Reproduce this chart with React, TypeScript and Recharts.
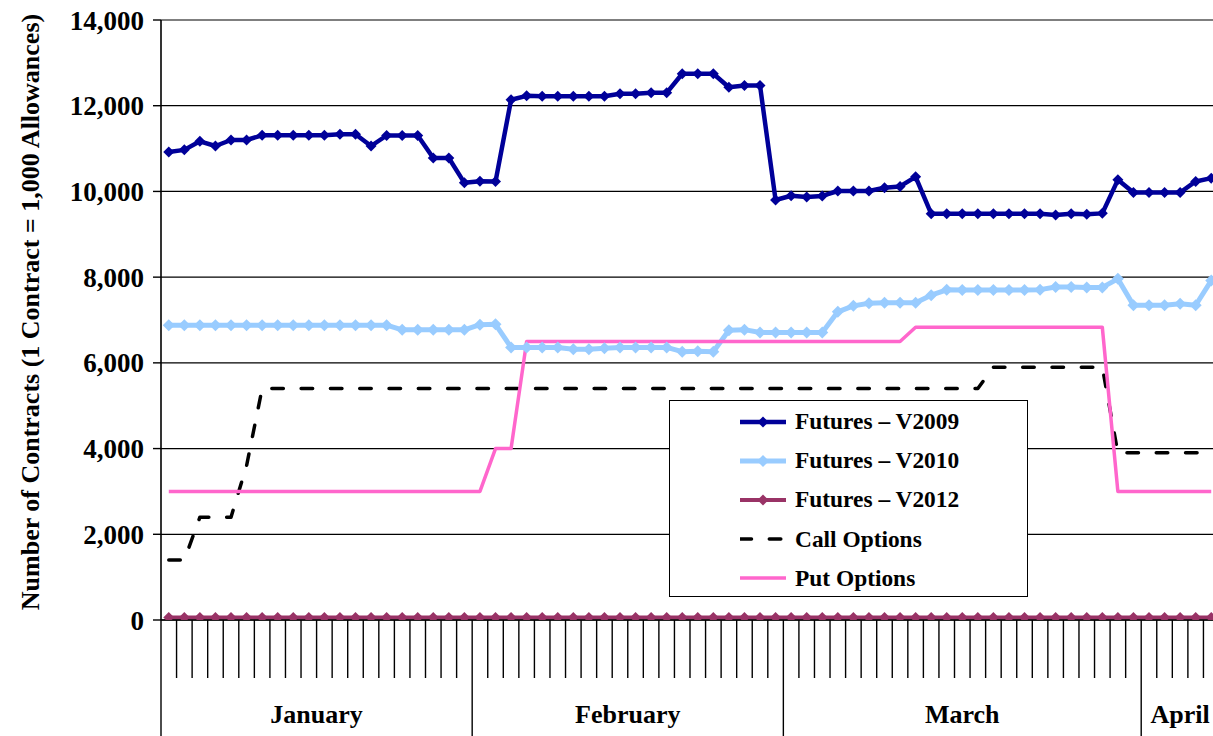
import React from 'react';
import { LineChart, Line, XAxis, YAxis, CartesianGrid, Legend } from 'recharts';

// ---- data ----
const monthNames = ['January', 'February', 'March', 'April'];
const daysPerMonth = [20, 20, 23, 5];

const futuresV2009 = [
  10920, 10970, 11170, 11060, 11200, 11200, 11310, 11310, 11310, 11310,
  11310, 11335, 11335, 11060, 11305, 11305, 11305, 10780, 10780, 10200,
  10240, 10230, 12140, 12230, 12220, 12220, 12220, 12220, 12220, 12280,
  12280, 12300, 12300, 12745, 12745, 12745, 12430, 12470, 12470, 9800,
  9900, 9870, 9895, 10010, 10010, 10010, 10086, 10117, 10340, 9480,
  9480, 9480, 9480, 9480, 9480, 9480, 9480, 9450, 9480, 9465,
  9488, 10270, 9975, 9975, 9975, 9975, 10233, 10310,
];

const futuresV2010 = [
  6880, 6880, 6880, 6880, 6880, 6880, 6880, 6880, 6880, 6880,
  6880, 6880, 6880, 6880, 6880, 6770, 6770, 6770, 6770, 6770,
  6890, 6900, 6360, 6360, 6360, 6360, 6320, 6320, 6340, 6360,
  6360, 6360, 6360, 6260, 6270, 6260, 6760, 6775, 6710, 6710,
  6710, 6710, 6710, 7190, 7330, 7390, 7400, 7400, 7400, 7580,
  7705, 7700, 7700, 7700, 7700, 7700, 7708, 7770, 7770, 7760,
  7760, 7960, 7345, 7345, 7345, 7380, 7345, 7920,
];

const futuresV2012 = [
  60, 60, 60, 60, 60, 60, 60, 60, 60, 60,
  60, 60, 60, 60, 60, 60, 60, 60, 60, 60,
  60, 60, 60, 60, 60, 60, 60, 60, 60, 60,
  60, 60, 60, 60, 60, 60, 60, 60, 60, 60,
  60, 60, 60, 60, 60, 60, 60, 60, 60, 60,
  60, 60, 60, 60, 60, 60, 60, 60, 60, 60,
  60, 60, 60, 60, 60, 60, 60, 60,
];

const callOptions = [
  1400, 1400, 2400, 2400, 2400, 3600, 5400, 5400, 5400, 5400,
  5400, 5400, 5400, 5400, 5400, 5400, 5400, 5400, 5400, 5400,
  5400, 5400, 5400, 5400, 5400, 5400, 5400, 5400, 5400, 5400,
  5400, 5400, 5400, 5400, 5400, 5400, 5400, 5400, 5400, 5400,
  5400, 5400, 5400, 5400, 5400, 5400, 5400, 5400, 5400, 5400,
  5400, 5400, 5400, 5900, 5900, 5900, 5900, 5900, 5900, 5900,
  5900, 3900, 3900, 3900, 3900, 3900, 3900, 3900,
];

const putOptions = [
  3000, 3000, 3000, 3000, 3000, 3000, 3000, 3000, 3000, 3000,
  3000, 3000, 3000, 3000, 3000, 3000, 3000, 3000, 3000, 3000,
  3000, 4000, 4000, 6500, 6500, 6500, 6500, 6500, 6500, 6500,
  6500, 6500, 6500, 6500, 6500, 6500, 6500, 6500, 6500, 6500,
  6500, 6500, 6500, 6500, 6500, 6500, 6500, 6500, 6830, 6830,
  6830, 6830, 6830, 6830, 6830, 6830, 6830, 6830, 6830, 6830,
  6830, 3000, 3000, 3000, 3000, 3000, 3000, 3000,
];

const yTicks = [0, 2000, 4000, 6000, 8000, 10000, 12000, 14000];
const yAxisTitle = 'Number of Contracts (1 Contract = 1,000 Allowances)';

type Series = {
  key: string;
  name: string;
  color: string;
  width: number;
  marker: number;
  dash?: string;
};

const series: Series[] = [
  { key: 'v2009', name: 'Futures \u2013 V2009', color: '#000099', width: 4.5, marker: 5.5 },
  { key: 'v2010', name: 'Futures \u2013 V2010', color: '#99CCFF', width: 5, marker: 6 },
  { key: 'v2012', name: 'Futures \u2013 V2012', color: '#993366', width: 4, marker: 5.5 },
  { key: 'call', name: 'Call Options', color: '#000000', width: 3.5, marker: 0, dash: '11.5 17.8' },
  { key: 'put', name: 'Put Options', color: '#FF66CC', width: 3.5, marker: 0 },
];

// ---- derived table ----
const data = futuresV2009.map((v, i) => ({
  i,
  v2009: v,
  v2010: futuresV2010[i],
  v2012: futuresV2012[i],
  call: callOptions[i],
  put: putOptions[i],
}));

const nDays = data.length;
const monthStarts: number[] = [];
daysPerMonth.reduce((acc, n) => {
  monthStarts.push(acc);
  return acc + n;
}, 0);
const monthBoundaries = [...monthStarts.map((s) => s - 0.5), nDays - 0.5];
const monthCenters = monthStarts.map((s, k) => s - 0.5 + daysPerMonth[k] / 2);
const dayBoundaries = data.map((d) => d.i - 0.5).concat([nDays - 0.5]);

const FONT = '"Liberation Serif", "Times New Roman", Times, serif';
const DAY_AXIS_H = 58;
const MONTH_AXIS_H = 58;

const diamond = (cx: number, cy: number, r: number) =>
  `M${cx},${cy - r} L${cx + r},${cy} L${cx},${cy + r} L${cx - r},${cy} Z`;

const makeDot = (s: Series) => (props: any) => {
  const { cx, cy, index } = props;
  if (cx == null || cy == null) return <g key={`e-${s.key}-${index}`} />;
  return <path key={`d-${s.key}-${index}`} d={diamond(cx, cy, s.marker)} fill={s.color} />;
};

const DayTick = (props: any) => {
  const { x, y, payload } = props;
  const long = monthBoundaries.some((b) => Math.abs(b - payload.value) < 1e-6);
  return (
    <line
      x1={x}
      y1={y}
      x2={x}
      y2={y + (long ? DAY_AXIS_H + MONTH_AXIS_H : DAY_AXIS_H)}
      stroke="#000"
      strokeWidth={1.4}
    />
  );
};

const MonthTick = (props: any) => {
  const { x, y, payload } = props;
  const k = monthCenters.findIndex((c) => Math.abs(c - payload.value) < 1e-6);
  return (
    <text
      x={x}
      y={y + 45}
      textAnchor="middle"
      fontFamily={FONT}
      fontWeight="bold"
      fontSize={26}
      fill="#000"
    >
      {k >= 0 ? monthNames[k] : ''}
    </text>
  );
};

const YTitle = (props: any) => {
  const vb = props.viewBox || { x: 0, y: 0, width: 0, height: 0 };
  const cx = vb.x + 30;
  const cy = vb.y + vb.height / 2 - 8;
  return (
    <text
      x={cx}
      y={cy}
      transform={`rotate(-90, ${cx}, ${cy})`}
      textAnchor="middle"
      dominantBaseline="central"
      fontFamily={FONT}
      fontWeight="bold"
      fontSize={26}
      fill="#000"
    >
      {yAxisTitle}
    </text>
  );
};

const LegendBox = () => (
  <div
    style={{
      width: 359,
      height: 197,
      boxSizing: 'border-box',
      border: '1px solid #000',
      background: '#fff',
      paddingTop: 1,
    }}
  >
    {series.map((s) => (
      <div key={s.key} style={{ display: 'flex', alignItems: 'center', height: 39.2 }}>
        <svg width={46} height={20} style={{ marginLeft: 70, display: 'block' }}>
          <line
            x1={0}
            y1={10}
            x2={46}
            y2={10}
            stroke={s.color}
            strokeWidth={s.width}
            strokeDasharray={s.dash}
            strokeLinecap={s.dash ? 'round' : 'butt'}
          />
          {s.marker > 0 && <path d={diamond(23, 10, s.marker)} fill={s.color} />}
        </svg>
        <span
          style={{
            marginLeft: 9,
            fontFamily: FONT,
            fontWeight: 'bold',
            fontSize: 23.4,
            color: '#000',
            whiteSpace: 'nowrap',
          }}
        >
          {s.name}
        </span>
      </div>
    ))}
  </div>
);

export default function App() {
  return (
    <div
      style={{
        position: 'absolute',
        left: 0,
        top: 0,
        width: 1213,
        height: 736,
        overflow: 'hidden',
        background: '#fff',
      }}
    >
      <LineChart
        width={1219}
        height={736}
        data={data}
        margin={{ top: 20, right: 0, bottom: 0, left: 0 }}
      >
        <CartesianGrid horizontal vertical={false} stroke="#000" strokeWidth={1.2} />
        <XAxis
          dataKey="i"
          type="number"
          domain={[-0.5, nDays - 0.5]}
          allowDataOverflow
          ticks={dayBoundaries}
          interval={0}
          height={DAY_AXIS_H}
          tickSize={0}
          tickMargin={0}
          tickLine={false}
          axisLine={{ stroke: '#000', strokeWidth: 1.4 }}
          tick={<DayTick />}
        />
        <XAxis
          xAxisId="month"
          dataKey="i"
          type="number"
          domain={[-0.5, nDays - 0.5]}
          allowDataOverflow
          ticks={monthCenters}
          interval={0}
          height={MONTH_AXIS_H}
          tickSize={0}
          tickMargin={0}
          tickLine={false}
          axisLine={false}
          tick={<MonthTick />}
        />
        <YAxis
          width={161}
          domain={[0, 14000]}
          ticks={yTicks}
          interval={0}
          allowDataOverflow
          tickSize={8}
          tickMargin={9}
          axisLine={{ stroke: '#000', strokeWidth: 1.6 }}
          tickLine={{ stroke: '#000', strokeWidth: 1.4 }}
          tick={{ fill: '#000', fontSize: 27, fontFamily: FONT, fontWeight: 'bold' }}
          tickFormatter={(v: number) => v.toLocaleString('en-US')}
          label={<YTitle />}
        />
        {series.map((s) => (
          <Line
            key={s.key}
            dataKey={s.key}
            name={s.name}
            type="linear"
            stroke={s.color}
            strokeWidth={s.width}
            strokeDasharray={s.dash}
            strokeLinecap={s.dash ? 'round' : 'butt'}
            strokeLinejoin="round"
            dot={s.marker > 0 ? makeDot(s) : false}
            activeDot={false}
            isAnimationActive={false}
          />
        ))}
        <Legend
          layout="vertical"
          align="center"
          verticalAlign="middle"
          content={<LegendBox />}
          wrapperStyle={{ left: 669, top: 400, width: 359, height: 197, margin: 0 }}
        />
      </LineChart>
    </div>
  );
}
